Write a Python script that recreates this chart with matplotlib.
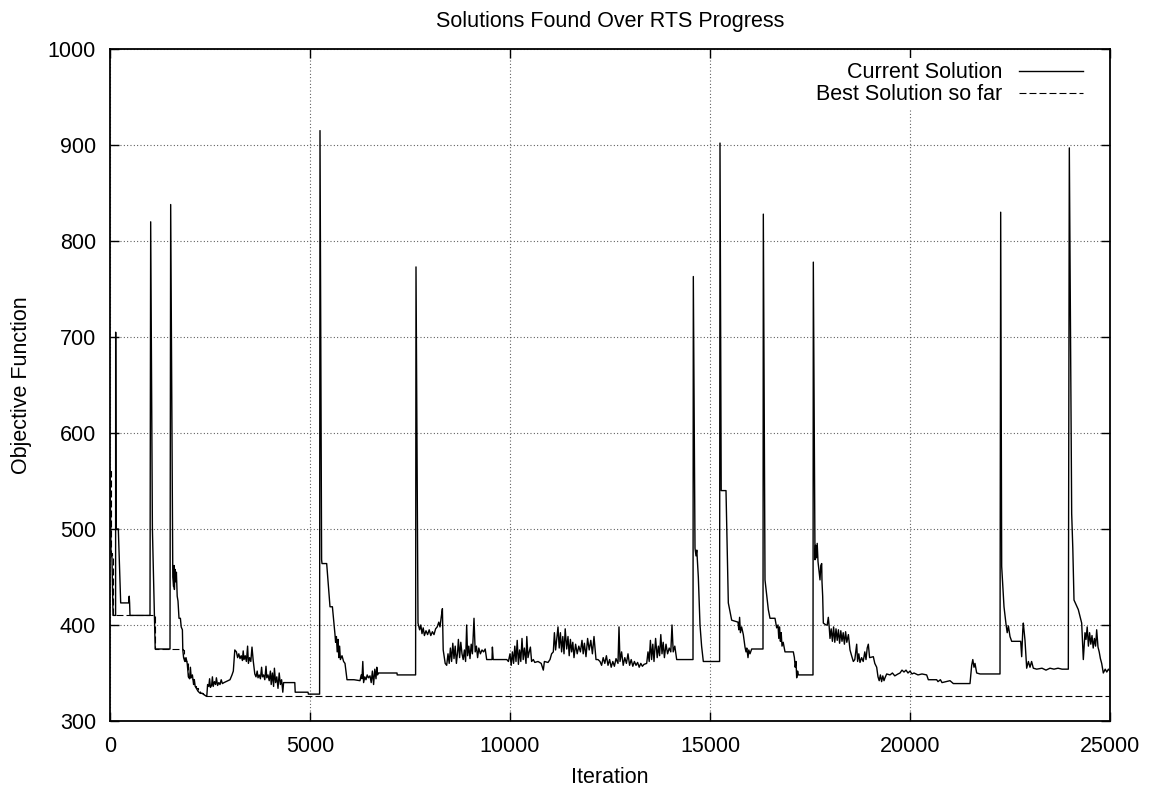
import numpy as np
import matplotlib
matplotlib.use("Agg")
import matplotlib.pyplot as plt

plt.rcParams['font.family'] = ['Liberation Sans', 'DejaVu Sans']
plt.rcParams['lines.scale_dashes'] = False

# current solution, read off the picture restart by restart
# start
s1_it = [0, 25, 50, 75, 140, 142, 150, 208, 267, 470, 480, 490, 500, 1000]
s1_ob = [560, 475, 470, 410, 410, 705, 500, 500, 423, 423, 430, 423, 410, 410]

# restarts at ~1000 and ~1500
s2_it = [1017, 1060, 1130, 1500, 1517, 1570, 1590, 1600, 1610, 1625,
         1640, 1660, 1680, 1700, 1725, 1760, 1780, 1810, 1820, 1840,
         1870, 1900, 1930, 1960, 1990, 2010, 2030, 2060, 2090, 2110,
         2130, 2160, 2200, 2250, 2300, 2330, 2400, 2420]
s2_ob = [820, 500, 375, 375, 838, 450, 440, 462, 437, 458,
         445, 455, 430, 425, 407, 407, 398, 395, 374, 366,
         362, 366, 360, 346, 344, 356, 345, 348, 338, 342,
         336, 334, 331, 329, 329, 328, 326, 326]

s3_it = [2440, 2470, 2490, 2510, 2540, 2560, 2580, 2610, 2640, 2660,
         2690, 2720, 2750, 2780, 2810, 2850, 2900, 2950, 3000, 3050,
         3083, 3120, 3160, 3190, 3220, 3250, 3280, 3310, 3330, 3350,
         3380, 3410, 3440, 3460, 3490, 3520, 3550, 3580, 3620, 3650,
         3680, 3700, 3730, 3760, 3790, 3810, 3840, 3870, 3900, 3920,
         3950, 3980, 4010, 4030, 4060, 4090, 4110, 4140, 4170, 4200,
         4230, 4260, 4290, 4320, 4340, 4620, 4630, 4950, 4960, 5240]
s3_ob = [338, 336, 344, 335, 337, 346, 336, 341, 338, 345,
         337, 340, 338, 343, 339, 340, 341, 342, 343, 348,
         352, 374, 372, 366, 370, 365, 368, 363, 373, 364,
         368, 362, 378, 360, 366, 362, 377, 363, 349, 346,
         352, 345, 348, 344, 356, 346, 348, 343, 357, 345,
         348, 342, 352, 338, 350, 336, 355, 340, 346, 334,
         350, 338, 343, 330, 340, 340, 330, 330, 328, 328]

# restart at ~5250
s4_it = [5250, 5290, 5300, 5417, 5500, 5560, 5625, 5640, 5660, 5680,
         5700, 5720, 5740, 5760, 5800, 5840, 5875, 5925, 6100, 6250,
         6280, 6300, 6320, 6340, 6370, 6400, 6430, 6460, 6500, 6530,
         6560, 6590, 6620, 6650, 6670, 6690, 6700, 7175, 7180, 7640]
s4_ob = [915, 468, 464, 464, 419, 419, 390, 382, 388, 372,
         385, 366, 378, 364, 368, 362, 360, 343, 343, 342,
         348, 344, 362, 340, 346, 343, 348, 345, 347, 340,
         352, 338, 354, 344, 356, 348, 350, 350, 348, 348]

# restart at ~7650, long noisy stretch
s5_it = [7650, 7700, 7740, 7770, 7800, 7830, 7860, 7900, 7940, 7980,
         8020, 8060, 8100, 8140, 8180, 8220, 8250, 8280, 8310, 8330,
         8380, 8417, 8450, 8480, 8510, 8540, 8570, 8600, 8630, 8660,
         8690, 8710, 8740, 8770, 8800, 8830, 8860, 8890, 8917, 8940,
         8970, 9000, 9030, 9060, 9100, 9130, 9160, 9190, 9220, 9260,
         9300, 9340, 9380, 9417, 9550, 9560, 9580, 9920, 9960, 10000,
         10030, 10060, 10090, 10120, 10150, 10180, 10210, 10240, 10270, 10300,
         10330, 10360, 10400, 10420, 10450, 10480, 10510, 10540, 10583, 10620,
         10700, 10780, 10833, 10860, 10950, 11000, 11040, 11083, 11110, 11140,
         11170, 11200, 11230, 11260, 11290, 11320, 11350, 11380, 11417, 11450,
         11480, 11510, 11540, 11570, 11600, 11640, 11680, 11720, 11760, 11800,
         11830, 11860, 11900, 11940, 11980, 12020, 12060, 12100, 12150, 12200,
         12250, 12290, 12330, 12370, 12410, 12450, 12490, 12530, 12570, 12610,
         12650, 12700, 12725, 12750, 12790, 12830, 12870, 12910, 12950, 12990,
         13030, 13070, 13110, 13150, 13190, 13230, 13270, 13310, 13350, 13417,
         13450, 13480, 13510, 13540, 13570, 13600, 13640, 13680, 13710, 13740,
         13770, 13800, 13830, 13860, 13900, 13940, 13980, 14020, 14050, 14080,
         14120, 14167, 14575]
s5_ob = [773, 402, 395, 400, 391, 397, 389, 394, 390, 395,
         389, 393, 390, 396, 398, 403, 398, 408, 417, 374,
         360, 358, 370, 360, 376, 362, 381, 365, 378, 360,
         372, 385, 366, 382, 370, 364, 374, 362, 400, 368,
         378, 365, 380, 370, 407, 372, 378, 366, 376, 370,
         374, 372, 375, 364, 364, 377, 364, 364, 362, 370,
         358, 372, 360, 378, 362, 384, 359, 374, 362, 386,
         364, 376, 360, 388, 366, 372, 377, 362, 364, 361,
         362, 360, 353, 362, 361, 364, 370, 372, 392, 374,
         386, 398, 376, 392, 372, 388, 370, 396, 375, 388,
         368, 385, 372, 382, 366, 380, 370, 378, 372, 384,
         370, 381, 367, 386, 374, 384, 370, 388, 364, 364,
         362, 358, 366, 360, 368, 358, 364, 356, 362, 357,
         365, 360, 398, 362, 372, 358, 366, 360, 370, 358,
         364, 357, 362, 358, 361, 356, 360, 357, 359, 360,
         372, 362, 384, 364, 380, 362, 386, 366, 378, 368,
         390, 370, 382, 366, 380, 370, 376, 372, 400, 372,
         378, 364, 364]

# restarts at ~14600, ~15250, ~16300
s6_it = [14583, 14625, 14650, 14670, 14708, 14750, 14790, 14833, 15240, 15250,
         15280, 15400, 15458, 15542, 15700, 15720, 15740, 15760, 15790, 15833,
         15875, 15900, 15920, 15950, 15970, 16000, 16042, 16325, 16333, 16375,
         16458, 16500, 16625, 16667, 16700, 16720, 16740, 16760, 16780, 16800,
         16830, 16875, 17083, 17110, 17130, 17150, 17167, 17190, 17210, 17575]
s6_ob = [763, 480, 472, 478, 450, 400, 378, 362, 362, 902,
         540, 540, 423, 405, 403, 395, 408, 392, 398, 390,
         377, 372, 376, 366, 374, 370, 375, 375, 828, 447,
         416, 407, 407, 397, 400, 386, 398, 383, 392, 378,
         382, 372, 372, 366, 356, 362, 345, 352, 348, 348]

# restart at ~17600
s7_it = [17583, 17625, 17640, 17660, 17680, 17700, 17750, 17770, 17792, 17800,
         17817, 17833, 17900, 17930, 17958, 17980, 18000, 18030, 18060, 18090,
         18120, 18150, 18180, 18210, 18240, 18270, 18300, 18330, 18360, 18390,
         18420, 18460, 18500, 18540, 18583, 18620, 18667, 18690, 18720, 18750,
         18790, 18830, 18870, 18900, 18930, 18958, 18990, 19083, 19120, 19167,
         19200, 19230, 19260, 19290, 19320, 19350, 19375, 19417, 19500, 19560,
         19620, 19700, 19750, 19800, 19850, 19900, 19950, 20000, 20050, 20100,
         20200, 20300, 20417, 20458, 20667, 20700, 20760, 20800, 20900, 21000,
         21083, 21500, 21542, 21570, 21600, 21625, 21667, 21750, 22250]
s7_ob = [778, 468, 483, 470, 485, 466, 447, 462, 464, 445,
         430, 402, 400, 400, 408, 398, 386, 396, 383, 398,
         382, 396, 384, 395, 381, 394, 383, 392, 380, 393,
         382, 390, 374, 368, 362, 364, 380, 362, 370, 361,
         366, 362, 372, 364, 376, 380, 366, 367, 360, 356,
         346, 342, 348, 341, 347, 342, 345, 349, 348, 350,
         347, 349, 350, 353, 351, 353, 350, 352, 349, 350,
         348, 349, 348, 343, 343, 341, 343, 340, 341, 342,
         339, 339, 358, 364, 356, 360, 350, 349, 349]

# restarts at ~22300 and ~24000
s8_it = [22267, 22292, 22350, 22400, 22430, 22460, 22500, 22542, 22767, 22792,
         22820, 22833, 22875, 22917, 22960, 23000, 23040, 23083, 23167, 23300,
         23400, 23500, 23600, 23700, 23800, 23958, 23983, 24042, 24070, 24100,
         24208, 24292, 24333, 24375, 24400, 24430, 24460, 24490, 24520, 24550,
         24580, 24610, 24640, 24667, 24700, 24730, 24760, 24792, 24833, 24880,
         24920, 24960, 25000]
s8_ob = [830, 461, 419, 401, 392, 399, 388, 383, 383, 367,
         395, 402, 384, 355, 362, 356, 362, 355, 354, 355,
         353, 355, 354, 355, 354, 354, 897, 516, 480, 426,
         416, 402, 364, 392, 385, 398, 378, 392, 380, 389,
         376, 386, 378, 395, 377, 372, 365, 360, 350, 354,
         351, 354, 352]

# best solution so far (step changes)
best_it = [0, 25, 50, 75, 1130, 1820, 1840, 1870, 1930, 1960,
           1990, 2090, 2130, 2160, 2200, 2250, 2330, 2400, 25000]
best_ob = [560, 475, 470, 410, 375, 374, 366, 362, 360, 346,
           344, 338, 336, 334, 331, 329, 328, 326, 326]

cur_it = s1_it + s2_it + s3_it + s4_it + s5_it + s6_it + s7_it + s8_it
cur_ob = s1_ob + s2_ob + s3_ob + s4_ob + s5_ob + s6_ob + s7_ob + s8_ob

fig = plt.figure(figsize=(11.52, 7.88), dpi=100)
ax = fig.add_axes([110/1152, 1 - 721/788, 1000/1152, 672/788])

ax.plot(cur_it, cur_ob, color='black', lw=1.0, label='Current Solution', zorder=3)
ax.plot(best_it, best_ob, color='black', lw=0.8, drawstyle='steps-post',
        dashes=(5, 2.2), label='Best Solution so far', zorder=3)

ax.set_xlim(0, 25000)
ax.set_ylim(300, 1000)
ax.set_xticks(np.arange(0, 25001, 5000))
ax.set_yticks(np.arange(300, 1001, 100))

ax.grid(True, color='0.3', lw=0.8, linestyle=(0, (0.7, 1.7)), zorder=1)
ax.tick_params(direction='in', length=6.5, width=1, top=True, right=True,
               labelsize=15.5, pad=11)
ax.tick_params(axis='y', pad=10)
for sp in ax.spines.values():
    sp.set_linewidth(1.3)

ax.set_title('Solutions Found Over RTS Progress', fontsize=15.5, pad=16)
ax.set_xlabel('Iteration', fontsize=15.5)
ax.set_ylabel('Objective Function', fontsize=15.5)
ax.xaxis.set_label_coords(0.5, -0.068)
ax.yaxis.set_label_coords(-0.078, 0.5)

leg = ax.legend(loc='upper right', bbox_to_anchor=(0.977, 0.987), borderaxespad=0,
                markerfirst=False, fontsize=15.5, handlelength=2.95,
                handletextpad=0.8, labelspacing=0.05, borderpad=0.2,
                frameon=True, fancybox=False, framealpha=1)
leg.get_frame().set_edgecolor('none')
leg.get_frame().set_facecolor('white')
leg.set_zorder(4)

fig.savefig('out.png', dpi=100)
